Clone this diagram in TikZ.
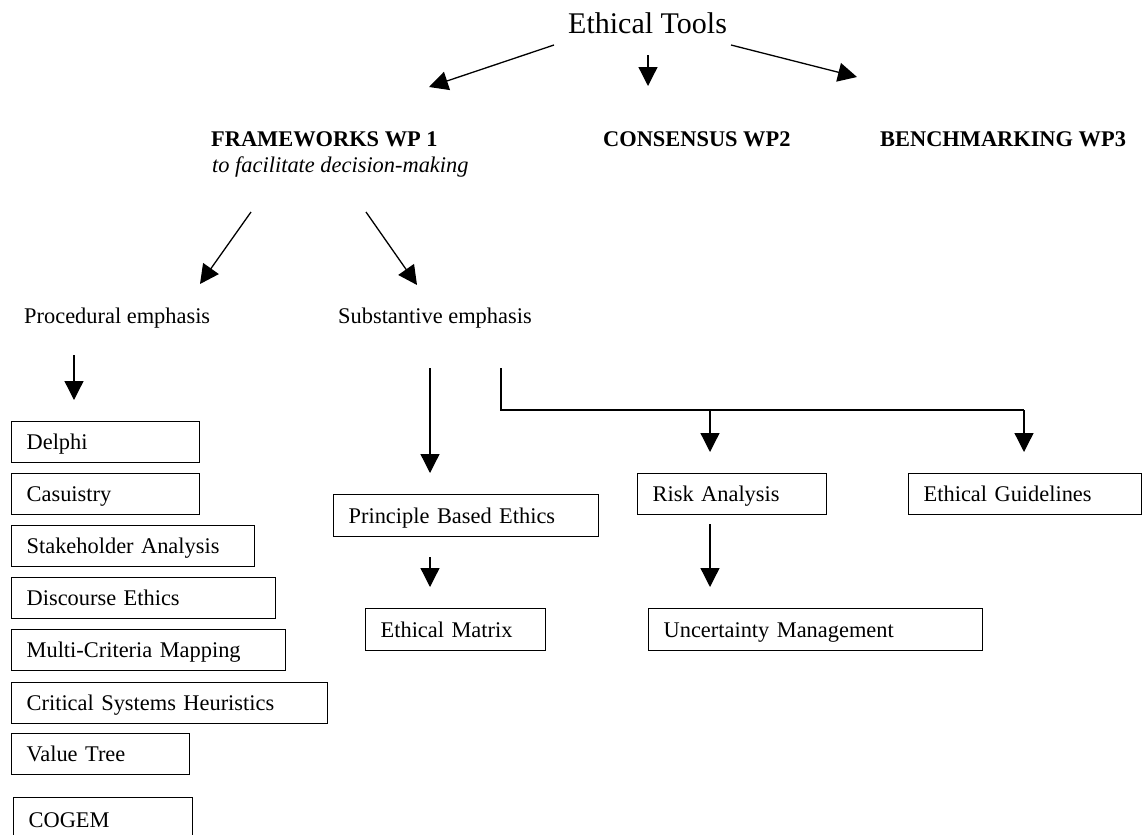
\documentclass[tikz,border=0pt]{standalone}
\usepackage{fontspec}
\setmainfont{Liberation Serif}
\usetikzlibrary{arrows.meta}
\begin{document}
\begin{tikzpicture}[x=1pt,y=-1pt,
  every node/.style={font=\fontsize{22.4}{26}\selectfont, inner sep=0pt},
  lbl/.style={anchor=base west},
  hd/.style={anchor=base west, font=\fontsize{22.4}{26}\selectfont\bfseries},
  box/.style={draw, line width=1.3pt, anchor=north west, inner xsep=15pt, inner ysep=0pt,
    text width=#1, align=left, minimum height=41pt, text height=15.5pt, text depth=0pt},
  arr/.style={line width=1.3pt, -{Triangle[length=19pt,width=19pt]}},
  ln/.style={line width=1.3pt}]
\useasboundingbox (0,0) rectangle (1143,835);
\fill[white] (0,0) rectangle (1143,835);

% titles
\node[lbl, font=\fontsize{30}{36}\selectfont] (title) at (568,33) {Ethical Tools};
\node[hd] (fw) at (211,146) {FRAMEWORKS WP 1};
\node[lbl, font=\fontsize{22.4}{26}\selectfont\itshape] (fwsub) at (212,172) {to facilitate decision-making};
\node[hd] (cons) at (603,146) {CONSENSUS WP2};
\node[hd] (bench) at (880,146) {BENCHMARKING WP3};
\node[lbl] (proc) at (24,323) {Procedural emphasis};
\node[lbl] (subst) at (338,323) {Substantive emphasis};

% left column boxes
\node[box=158pt] (delphi) at (11,421) {Delphi};
\node[box=158pt] (casu) at (11,473) {Casuistry};
\node[box=213pt] (stake) at (11,525) {Stakeholder Analysis};
\node[box=234pt] (disc) at (11,577) {Discourse Ethics};
\node[box=244pt] (multi) at (11,629) {Multi-Criteria Mapping};
\node[box=286pt] (crit) at (11,682) {Critical Systems Heuristics};
\node[box=148pt] (value) at (11,733) {Value Tree};
\node[box=149pt, minimum height=44pt] (cogem) at (13,797) {COGEM};

% substantive boxes
\node[box=235pt, minimum height=42pt] (pbe) at (333,494) {Principle Based Ethics};
\node[box=150pt, minimum height=42pt] (em) at (365,608) {Ethical Matrix};
\node[box=159pt] (risk) at (637,473) {Risk Analysis};
\node[box=203pt] (eg) at (908,473) {Ethical Guidelines};
\node[box=304pt, minimum height=42pt] (um) at (648,608) {Uncertainty Management};

% connector end points
\coordinate (t1) at (554,45);  \coordinate (h1) at (429,87);
\coordinate (t2) at (648,55);  \coordinate (h2) at (648,86);
\coordinate (t3) at (731,45);  \coordinate (h3) at (857,77);
\coordinate (t4) at (251,212); \coordinate (h4) at (200,284);
\coordinate (t5) at (366,212); \coordinate (h5) at (417,285);
\coordinate (t6) at (74,355);  \coordinate (h6) at (74,400);
\coordinate (t7) at (430,368); \coordinate (h7) at (430,473);
\coordinate (t8) at (501,368); \coordinate (c8) at (501,410);
\coordinate (j8) at (710,410); \coordinate (e8) at (1024,410);
\coordinate (h8a) at (710,452); \coordinate (h8b) at (1024,452);
\coordinate (t9) at (430,557); \coordinate (h9) at (430,587);
\coordinate (t10) at (710,524); \coordinate (h10) at (710,587);

\draw[arr] (t1) -- (h1);
\draw[arr] (t2) -- (h2);
\draw[arr] (t3) -- (h3);
\draw[arr] (t4) -- (h4);
\draw[arr] (t5) -- (h5);
\draw[arr] (t6) -- (h6);
\draw[arr] (t7) -- (h7);
\draw[ln] (t8) -- (c8) -- (e8);
\draw[arr] (j8) -- (h8a);
\draw[arr] (e8) -- (h8b);
\draw[arr] (t9) -- (h9);
\draw[arr] (t10) -- (h10);
\end{tikzpicture}
\end{document}
